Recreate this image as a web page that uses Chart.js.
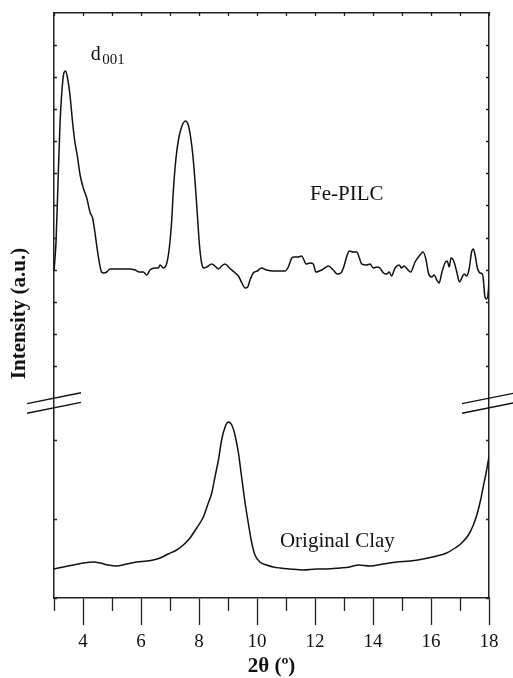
<!DOCTYPE html>
<html>
<head>
<meta charset="utf-8">
<script src="https://cdn.jsdelivr.net/npm/chart.js@4.4.1/dist/chart.umd.min.js"></script>
<style>
  html, body { margin: 0; padding: 0; background: #ffffff; }
  canvas { display: block; }
</style>
</head>
<body>
<canvas id="xrd" width="513" height="678"></canvas>
<script>
// XRD patterns, 2θ in degrees; intensities in arbitrary units.
// The Fe-PILC pattern sits above the axis break, the original clay below it.
const fePilcTheta = [
  3.00, 3.07, 3.15, 3.21, 3.27, 3.34, 3.40, 3.46, 3.55, 3.64, 3.72, 3.80, 3.90,
  4.01, 4.13, 4.24, 4.33, 4.41, 4.47, 4.56, 4.64, 4.72, 4.82, 4.93, 5.16, 5.39,
  5.62, 5.79, 5.94, 6.08, 6.20, 6.31, 6.48, 6.60, 6.66, 6.77, 6.89, 6.98, 7.06,
  7.11, 7.20, 7.29, 7.40, 7.53, 7.63, 7.71, 7.78, 7.86, 7.94, 8.01, 8.09, 8.17,
  8.27, 8.44, 8.55, 8.67, 8.78, 8.90, 9.05, 9.25, 9.36, 9.48, 9.59, 9.68, 9.76,
  9.87, 10.01, 10.16, 10.33, 10.56, 10.79, 10.97, 11.08, 11.20, 11.28, 11.42,
  11.54, 11.62, 11.69, 11.83, 11.94, 12.03, 12.15, 12.29, 12.46, 12.63, 12.77,
  12.89, 12.98, 13.09, 13.18, 13.32, 13.44, 13.53, 13.61, 13.78, 13.90, 14.01,
  14.13, 14.24, 14.36, 14.47, 14.56, 14.64, 14.76, 14.90, 14.99, 15.07, 15.18,
  15.30, 15.45, 15.62, 15.73, 15.83, 15.91, 16.02, 16.11, 16.20, 16.28, 16.37,
  16.48, 16.56, 16.63, 16.69, 16.77, 16.89, 16.98, 17.06, 17.14, 17.23, 17.32,
  17.40, 17.46, 17.52, 17.60, 17.69, 17.77, 17.80, 17.86, 17.92, 17.98, 18.00
];
const fePilcIntensity = [
  327, 356, 426, 476, 506, 525, 527, 521, 503, 476, 456, 443, 423,
  410, 400, 386, 380, 366, 353, 336, 326, 325, 326, 329, 329, 329,
  329, 328, 326, 326, 323, 328, 330, 330, 333, 330, 335, 351, 378,
  405, 438, 458, 471, 477, 473, 461, 445, 418, 385, 355, 335, 330,
  331, 334, 332, 329, 332, 334, 330, 325, 322, 315, 310, 311, 318,
  325, 327, 330, 328, 327, 327, 327, 331, 340, 341, 341,
  342, 338, 334, 335, 334, 326, 327, 329, 332, 328, 324,
  325, 330, 341, 347, 346, 346, 340, 334, 333, 334, 330,
  331, 330, 325, 324, 326, 322, 330, 333, 330, 332, 329,
  326, 336, 343, 346, 338, 325, 321, 323, 318, 315, 325,
  335, 337, 331, 340, 338, 326, 316, 320, 324, 322, 330,
  346, 349, 343, 330, 325, 324, 320, 301, 299, 308, 318
];

const clayTheta = [
  3.00, 3.32, 3.67, 4.01, 4.39, 4.59, 4.87, 5.16, 5.51, 5.85, 6.20, 6.42, 6.66,
  6.94, 7.23, 7.46, 7.69, 7.92, 8.15, 8.32, 8.44, 8.55, 8.67, 8.78, 8.90, 9.01,
  9.13, 9.24, 9.36, 9.47, 9.59, 9.70, 9.82, 9.93, 10.10, 10.33, 10.56, 10.79,
  11.14, 11.60, 12.06, 12.40, 12.86, 13.20, 13.50, 13.90, 14.36, 14.82, 15.28,
  15.73, 16.20, 16.54, 16.83, 17.06, 17.29, 17.46, 17.60, 17.71, 17.80, 17.90,
  17.98, 18.00
];
const clayIntensity = [
  29, 31, 33, 35, 36, 35, 33, 32, 34, 36, 37, 38, 40,
  44, 48, 53, 60, 70, 81, 95, 105, 121, 138, 158, 171, 176,
  173, 163, 145, 121, 95, 75, 55, 43, 36, 33, 31, 30,
  29, 28, 29, 29, 30, 31, 33, 32, 34, 36, 37,
  39, 42, 45, 50, 55, 63, 73, 85, 98, 111, 125,
  138, 141
];

// Axis ticks: 2θ every degree (labels on even values), intensity ticks on
// both sides of the break, and the intensity level where the axis is broken.
const thetaMin = 3;
const thetaMax = 18;
const intensityMax = 585;
const intensityTicksLower = [0, 79, 158];
const intensityTicksUpper = [232, 264, 296, 328, 360, 393, 425, 457, 489, 521, 553];
const axisBreakAt = 195;

const AXIS_COLOR = '#222222';
const LINE_COLOR = '#111111';
const SERIF = '"Liberation Serif", "Times New Roman", serif';

const toPoints = (xs, ys) => xs.map((x, i) => ({ x, y: ys[i] }));

// Inward ticks, minor 2θ ticks, axis-break marks and text annotations.
const decorations = {
  id: 'decorations',
  afterDraw(chart) {
    const { ctx, chartArea: a, scales } = chart;
    const x = scales.x, y = scales.y;
    ctx.save();
    ctx.strokeStyle = AXIS_COLOR;
    ctx.lineWidth = 1.3;
    ctx.beginPath();
    // intensity ticks, pointing into the plot on both sides
    y.ticks.forEach(t => {
      const py = Math.round(y.getPixelForValue(t.value)) + 0.5;
      ctx.moveTo(a.left, py); ctx.lineTo(a.left + 3, py);
      ctx.moveTo(a.right, py); ctx.lineTo(a.right - 3, py);
    });
    // top 2θ ticks pointing down, bottom minor ticks pointing outward
    x.ticks.forEach(t => {
      const px = Math.round(x.getPixelForValue(t.value)) + 0.5;
      ctx.moveTo(px, a.top); ctx.lineTo(px, a.top + 3);
      if (t.value % 2 !== 0) {
        ctx.moveTo(px, a.bottom); ctx.lineTo(px, a.bottom + 13);
      }
    });
    ctx.stroke();

    // axis-break marks: two parallel slanted strokes across each side axis
    const pb = y.getPixelForValue(axisBreakAt);
    ctx.lineWidth = 1.4;
    ctx.strokeStyle = LINE_COLOR;
    ctx.beginPath();
    [a.left, a.right].forEach(ax => {
      [-4.8, 4.8].forEach(off => {
        ctx.moveTo(ax - 27, pb + off + 5.4);
        ctx.lineTo(ax + 27, pb + off - 5.4);
      });
    });
    ctx.stroke();

    // annotations
    ctx.fillStyle = '#111111';
    ctx.textBaseline = 'alphabetic';
    ctx.textAlign = 'left';
    ctx.font = '20px ' + SERIF;
    const dx = x.getPixelForValue(4.27), dy = y.getPixelForValue(538);
    ctx.fillText('d', dx, dy);
    const dw = ctx.measureText('d').width;
    ctx.font = '15px ' + SERIF;
    ctx.fillText('001', dx + dw + 1.5, dy + 3.5);

    ctx.font = '21px ' + SERIF;
    ctx.fillText('Fe-PILC', x.getPixelForValue(11.83), y.getPixelForValue(398));
    ctx.fillText('Original Clay', x.getPixelForValue(10.79), y.getPixelForValue(51));

    // axis titles
    ctx.font = 'bold 21px ' + SERIF;
    ctx.textAlign = 'center';
    ctx.fillText('2θ (º)', (a.left + a.right) / 2, a.bottom + 74);
    ctx.save();
    ctx.translate(a.left - 34, (a.top + a.bottom) / 2 + 8);
    ctx.rotate(-Math.PI / 2);
    ctx.textBaseline = 'middle';
    ctx.fillText('Intensity (a.u.)', 0, 0);
    ctx.restore();
    ctx.restore();
  }
};

const lineStyle = {
  borderColor: LINE_COLOR,
  borderWidth: 1.5,
  pointRadius: 0,
  fill: false,
  cubicInterpolationMode: 'monotone'
};

new Chart(document.getElementById('xrd'), {
  type: 'line',
  data: {
    datasets: [
      Object.assign({ label: 'Fe-PILC', data: toPoints(fePilcTheta, fePilcIntensity) }, lineStyle),
      Object.assign({ label: 'Original Clay', data: toPoints(clayTheta, clayIntensity) }, lineStyle)
    ]
  },
  options: {
    responsive: false,
    animation: false,
    devicePixelRatio: 1,
    layout: { padding: { left: 54, right: 24, top: 13, bottom: 28 } },
    plugins: { legend: { display: false }, tooltip: { enabled: false } },
    scales: {
      x: {
        type: 'linear',
        position: 'bottom',
        min: thetaMin,
        max: thetaMax,
        ticks: {
          stepSize: 1,
          autoSkip: false,
          maxRotation: 0,
          padding: 6,
          color: '#111111',
          font: { family: SERIF, size: 19 },
          callback: v => (v % 2 === 0 ? String(v) : '')
        },
        grid: {
          drawOnChartArea: false,
          drawTicks: true,
          tickLength: 27,
          tickWidth: 1.3,
          tickColor: c => (c.tick && c.tick.value % 2 === 0 ? AXIS_COLOR : 'rgba(0,0,0,0)')
        },
        border: { display: true, color: AXIS_COLOR, width: 1.5 },
        afterFit: s => { s.height = 52; }
      },
      xTop: {
        type: 'linear',
        position: 'top',
        min: thetaMin,
        max: thetaMax,
        ticks: { display: false },
        grid: { display: false },
        border: { display: true, color: AXIS_COLOR, width: 1.5 },
        afterFit: s => { s.height = 0; }
      },
      y: {
        type: 'linear',
        position: 'left',
        min: 0,
        max: intensityMax,
        afterBuildTicks: s => {
          s.ticks = intensityTicksLower.concat(intensityTicksUpper).map(v => ({ value: v }));
        },
        ticks: { display: false },
        grid: { display: false },
        border: { display: true, color: AXIS_COLOR, width: 1.5 },
        afterFit: s => { s.width = 0; }
      },
      yRight: {
        type: 'linear',
        position: 'right',
        min: 0,
        max: intensityMax,
        ticks: { display: false },
        grid: { display: false },
        border: { display: true, color: AXIS_COLOR, width: 1.5 },
        afterFit: s => { s.width = 0; }
      }
    }
  },
  plugins: [decorations]
});
</script>
</body>
</html>
